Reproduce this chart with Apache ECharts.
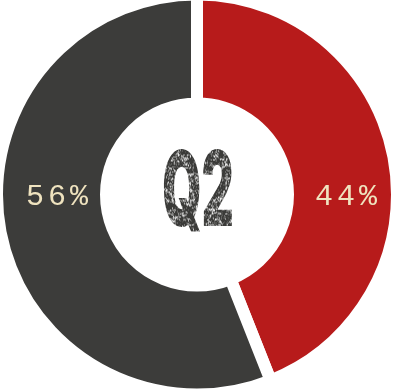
<!DOCTYPE html>
<html>
<head>
<meta charset="utf-8">
<script src="https://cdn.jsdelivr.net/npm/echarts@6/dist/echarts.min.js"></script>
<style>
  html, body { margin: 0; padding: 0; background: #ffffff; }
  #chart { width: 394px; height: 389px; }
</style>
</head>
<body>
<div id="chart"></div>
<script>
// Quarter share split, drawn as a two-slice donut
const categories = ['A', 'B'];
const shares = [44, 56];
const sliceColors = ['#b71b1b', '#3c3c3a'];
const quarterLabel = 'Q2';

const chart = echarts.init(document.getElementById('chart'), null, { renderer: 'canvas' });
const W = chart.getWidth();
const H = chart.getHeight();

// label centres, measured from the donut centre
const labelOffsets = [[149, 3], [-140, 3]];

function spacedText(str) {
  return str.split('').map(ch => '{c|' + ch + '}').join('');
}

// worn-ink texture: white flecks laid over the centre title (invisible on the white hole)
function hash(x, y) {
  let h = Math.imul(x, 374761393) ^ Math.imul(y, 668265263);
  h = Math.imul(h ^ (h >>> 13), 1274126177);
  h = h ^ (h >>> 16);
  return (h >>> 0) / 4294967295;
}
function smooth(x, y, s) {
  const gx = Math.floor(x / s), gy = Math.floor(y / s);
  const fx = x / s - gx, fy = y / s - gy;
  const a = hash(gx, gy), b = hash(gx + 1, gy);
  const c = hash(gx, gy + 1), d = hash(gx + 1, gy + 1);
  return (a * (1 - fx) + b * fx) * (1 - fy) + (c * (1 - fx) + d * fx) * fy;
}
function wearTexture(w, h) {
  const cv = document.createElement('canvas');
  cv.width = w; cv.height = h;
  const ctx = cv.getContext('2d');
  const img = ctx.createImageData(w, h);
  for (let y = 0; y < h; y++) {
    for (let x = 0; x < w; x++) {
      const v = 0.4 * smooth(x + 17, y + 5, 3) + 0.25 * smooth(x + 3, y * 2, 2) + 0.35 * hash(x + 101, y + 59);
      let a = (v - 0.52) * 4.5;
      a = Math.max(0, Math.min(1, a));
      const i = (y * w + x) * 4;
      img.data[i] = 255; img.data[i + 1] = 255; img.data[i + 2] = 255;
      img.data[i + 3] = Math.round(a * 225);
    }
  }
  ctx.putImageData(img, 0, 0);
  return cv;
}
const texW = 90, texH = 96;
const wear = wearTexture(texW, texH);

const option = {
  backgroundColor: '#ffffff',
  animation: false,
  graphic: [{
    type: 'text',
    x: W / 2 + 1,
    y: H / 2,
    style: {
      text: quarterLabel,
      fontFamily: 'Inter',
      fontWeight: 900,
      fontSize: 104,
      fill: '#3a3a38',
      textAlign: 'center',
      textVerticalAlign: 'middle'
    },
    scaleX: 0.48,
    z: 10
  }, {
    type: 'image',
    x: W / 2 + 1 - texW / 2,
    y: H / 2 - texH / 2 - 4,
    style: { image: wear, width: texW, height: texH },
    z: 11
  }],
  series: [{
    type: 'pie',
    center: ['50%', '50%'],
    radius: [91, 200],
    startAngle: 90,
    clockwise: true,
    silent: true,
    itemStyle: {
      borderColor: '#ffffff',
      borderWidth: 12
    },
    label: {
      show: true,
      position: 'inside',
      formatter: p => spacedText(p.value + '%'),
      rich: {
        c: {
          fontFamily: 'Liberation Mono',
          fontSize: 30,
          color: '#efe3bf',
          padding: [0, 2]
        }
      }
    },
    labelLine: { show: false },
    labelLayout: function (params) {
      const off = labelOffsets[params.dataIndex];
      return {
        x: W / 2 + off[0],
        y: H / 2 + off[1],
        align: 'center',
        verticalAlign: 'middle'
      };
    },
    data: categories.map((name, i) => ({
      name: name,
      value: shares[i],
      itemStyle: { color: sliceColors[i] }
    }))
  }]
};

chart.setOption(option);
</script>
</body>
</html>
